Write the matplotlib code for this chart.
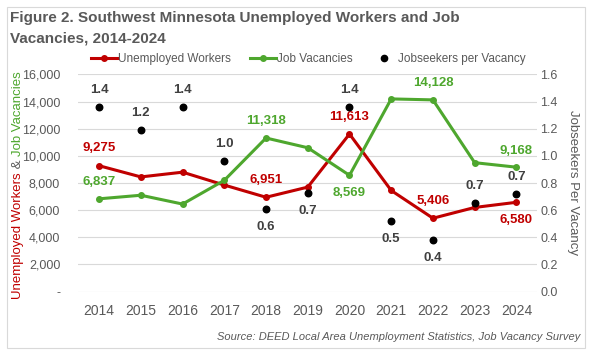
import matplotlib.pyplot as plt
import matplotlib.patches as patches
from matplotlib.lines import Line2D
from matplotlib.ticker import FuncFormatter

# ── Datos ─────────────────────────────────────────────────────────────────────
years = ["2014", "2015", "2016", "2017", "2018", "2019",
         "2020", "2021", "2022", "2023", "2024"]
unemployed = [9275, 8450, 8800, 7850, 6951, 7700, 11613, 7450, 5406, 6200, 6580]
vacancies = [6837, 7100, 6450, 8200, 11318, 10600, 8569, 14200, 14128, 9500, 9168]
ratio = [1.36, 1.19, 1.36, 0.96, 0.61, 0.73, 1.36, 0.52, 0.38, 0.65, 0.72]

# etiquetas visibles: índice -> posición (arriba/abajo)
unemp_labels = {0: "up", 4: "up", 6: "up", 8: "up", 10: "down"}
vac_labels = {0: "up", 4: "up", 6: "down", 8: "up", 10: "up"}
ratio_pos = ["up", "up", "up", "up", "down", "down", "up", "down", "down", "up", "up"]

RED = "#C00000"
GREEN = "#4EA72E"
GRAY = "#595959"

plt.rcParams["font.family"] = ["Liberation Sans", "DejaVu Sans"]

fig = plt.figure(figsize=(5.93, 3.53), dpi=100)
ax = fig.add_axes([0.132, 0.174, 0.774, 0.615])
ax2 = ax.twinx()

x = list(range(len(years)))
ax.plot(x, unemployed, color=RED, lw=2.2, marker="o", ms=4, zorder=3)
ax.plot(x, vacancies, color=GREEN, lw=2.2, marker="o", ms=4, zorder=3)
ax2.scatter(x, ratio, color="black", s=22, zorder=4)

ax.set_xlim(-0.5, len(years) - 0.5)
ax.set_ylim(0, 16000)
ax.set_yticks(range(0, 16001, 2000))
ax.yaxis.set_major_formatter(FuncFormatter(lambda v, p: "-" if v == 0 else f"{v:,.0f}"))
ax2.set_ylim(0, 1.6)
ax2.set_yticks([i * 0.2 for i in range(9)])
ax2.yaxis.set_major_formatter(FuncFormatter(lambda v, p: f"{v:.1f}"))

ax.set_xticks(x)
ax.set_xticklabels(years, fontsize=10, color=GRAY)
ax.grid(axis="y", color="#D9D9D9", lw=0.8)
ax.set_axisbelow(True)
for a in (ax, ax2):
    for s in a.spines.values():
        s.set_visible(False)
    a.tick_params(length=0, labelsize=9, colors=GRAY)
ax.tick_params(axis="y", pad=13)
ax.tick_params(axis="x", pad=9, labelsize=10)
ax2.tick_params(axis="y", pad=2)

# Etiquetas de datos
lab = dict(fontsize=9.5, fontweight="bold", ha="center")
for i, pos in unemp_labels.items():
    dy = 12.5 if pos == "up" else -13
    ax.annotate(f"{unemployed[i]:,}", (i, unemployed[i]), xytext=(0, dy),
                textcoords="offset points", va="center", color=RED, **lab)
for i, pos in vac_labels.items():
    dy = 12 if pos == "up" else -13
    ax.annotate(f"{vacancies[i]:,}", (i, vacancies[i]), xytext=(0, dy),
                textcoords="offset points", va="center", color=GREEN, **lab)
for i, pos in enumerate(ratio_pos):
    dy = 12.5 if pos == "up" else -13
    ax2.annotate(f"{ratio[i]:.1f}", (i, ratio[i]), xytext=(0, dy),
                 textcoords="offset points", va="center", color="#404040", **lab)

# Leyenda
handles = [
    Line2D([], [], color=RED, lw=2.2, marker="o", ms=4),
    Line2D([], [], color=GREEN, lw=2.2, marker="o", ms=4),
    Line2D([], [], color="black", lw=0, marker="o", ms=4.5),
]
fig.legend(handles, ["Unemployed Workers", "Job Vacancies", "Jobseekers per Vacancy"],
           loc="center", bbox_to_anchor=(0.52, 0.833), ncol=3, frameon=False,
           fontsize=8.5, labelcolor=GRAY, handlelength=2.2, handletextpad=0.1,
           columnspacing=1.6)

# Título
fig.text(0.017, 0.950, "Figure 2. Southwest Minnesota Unemployed Workers and Job",
         fontsize=11, fontweight="bold", color=GRAY, va="center", ha="left")
fig.text(0.017, 0.892, "Vacancies, 2014-2024",
         fontsize=11, fontweight="bold", color=GRAY, va="center", ha="left")

# Etiqueta eje derecho
fig.text(0.966, 0.482, "Jobseekers Per Vacancy", rotation=270, fontsize=9.5,
         color=GRAY, ha="center", va="center")

# Etiqueta eje izquierdo multicolor
fig.canvas.draw()
r = fig.canvas.get_renderer()
parts = [("Unemployed Workers", RED), (" & ", GRAY), ("Job Vacancies", GREEN)]
y0 = 0.153
for txt, col in parts:
    t = fig.text(0.031, y0, txt, rotation=90, fontsize=9.5, color=col,
                 ha="center", va="bottom")
    bb = t.get_window_extent(renderer=r)
    y0 += bb.height / fig.bbox.height

# Fuente
fig.text(0.979, 0.045, "Source: DEED Local Area Unemployment Statistics, Job Vacancy Survey",
         fontsize=8, style="italic", color=GRAY, ha="right", va="center")

# Borde
fig.add_artist(patches.Rectangle((0.012, 0.014), 0.975, 0.966, transform=fig.transFigure,
                                 fill=False, ec="#D9D9D9", lw=0.8))

fig.savefig("out.png", dpi=100)
